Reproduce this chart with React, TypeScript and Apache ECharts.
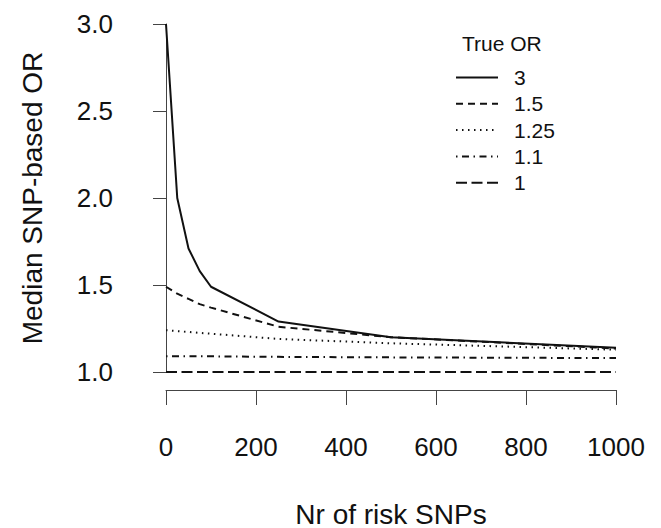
import React, { useEffect, useRef } from "react";
import * as echarts from "echarts";

const xValues = [0, 25, 50, 75, 100, 250, 500, 1000];
const seriesNames = ["3", "1.5", "1.25", "1.1", "1"];
const or3 = [3.0, 2.0, 1.71, 1.58, 1.49, 1.29, 1.2, 1.14];
const or15 = [1.49, 1.45, 1.42, 1.39, 1.37, 1.26, 1.2, 1.135];
const or125 = [1.24, 1.235, 1.23, 1.225, 1.22, 1.19, 1.165, 1.128];
const or11 = [1.09, 1.09, 1.09, 1.09, 1.09, 1.087, 1.084, 1.08];
const or1 = [1.0, 1.0, 1.0, 1.0, 1.0, 1.0, 1.0, 1.0];
const xTicks = [0, 200, 400, 600, 800, 1000];
const yTicks = [1.0, 1.5, 2.0, 2.5, 3.0];

const FONT = '"Liberation Sans", Arial, sans-serif';
const dashes: (number[] | "solid")[] = ["solid", [7, 5], [1.5, 4.5], [1.5, 4.5, 7, 4.5], [11, 4.5]];

export default function App() {
  const ref = useRef<HTMLDivElement>(null);
  useEffect(() => {
    if (!ref.current) return;
    const chart = echarts.init(ref.current, undefined, { renderer: "svg" });
    const all = [or3, or15, or125, or11, or1];
    chart.setOption({
      animation: false,
      backgroundColor: "#ffffff",
      title: {
        text: "True OR",
        left: 462,
        top: 33,
        textStyle: { fontFamily: FONT, fontSize: 21, fontWeight: "normal", color: "#111" },
        padding: 0,
      },
      legend: {
        orient: "vertical",
        left: 455,
        top: 67,
        itemWidth: 42,
        itemHeight: 14,
        itemGap: 5.3,
        padding: 0,
        data: seriesNames,
        itemStyle: { opacity: 0, borderWidth: 0 },
        textStyle: { fontFamily: FONT, fontSize: 21, color: "#111", lineHeight: 21, padding: [0, 0, 0, 11] },
      },
      grid: { left: 166, right: 45, top: 24, bottom: 156, containLabel: false, outerBoundsMode: "none" },
      xAxis: {
        type: "value",
        min: 0,
        max: 1000,
        interval: 200,
        offset: 18,
        name: "Nr of risk SNPs",
        nameLocation: "middle",
        nameGap: 110,
        nameTextStyle: { fontFamily: FONT, fontSize: 28, color: "#111" },
        axisLine: { show: true, lineStyle: { color: "#444", width: 1 } },
        axisTick: { show: true, length: 15, lineStyle: { color: "#444", width: 1 } },
        axisLabel: {
          margin: 44,
          fontFamily: FONT,
          fontSize: 26,
          color: "#111",
          formatter: (v: number) => (xTicks.includes(v) ? String(v) : ""),
        },
        splitLine: { show: false },
      },
      yAxis: {
        type: "value",
        min: 1,
        max: 3,
        interval: 0.5,
        offset: 20,
        name: "Median SNP-based OR",
        nameLocation: "middle",
        nameGap: 100,
        nameTextStyle: { fontFamily: FONT, fontSize: 28, color: "#111" },
        axisLine: { show: true, lineStyle: { color: "#444", width: 1 } },
        axisTick: { show: true, length: 13, lineStyle: { color: "#444", width: 1 } },
        axisLabel: {
          margin: 33,
          fontFamily: FONT,
          fontSize: 26,
          color: "#111",
          formatter: (v: number) => {
            const t = yTicks.find((y) => Math.abs(y - v) < 1e-9);
            return t !== undefined ? t.toFixed(1) : "";
          },
        },
        splitLine: { show: false },
      },
      series: seriesNames.map((name, i) => ({
        name,
        type: "line",
        data: xValues.map((x, j) => [x, all[i][j]]),
        showSymbol: false,
        symbol: "none",
        lineStyle: { color: "#111", width: 2, type: dashes[i] },
        itemStyle: { color: "#111" },
      })),
    });
    return () => chart.dispose();
  }, []);
  return (
    <div
      ref={ref}
      style={{ position: "fixed", left: 0, top: 0, width: 661, height: 528, background: "#fff" }}
    />
  );
}
